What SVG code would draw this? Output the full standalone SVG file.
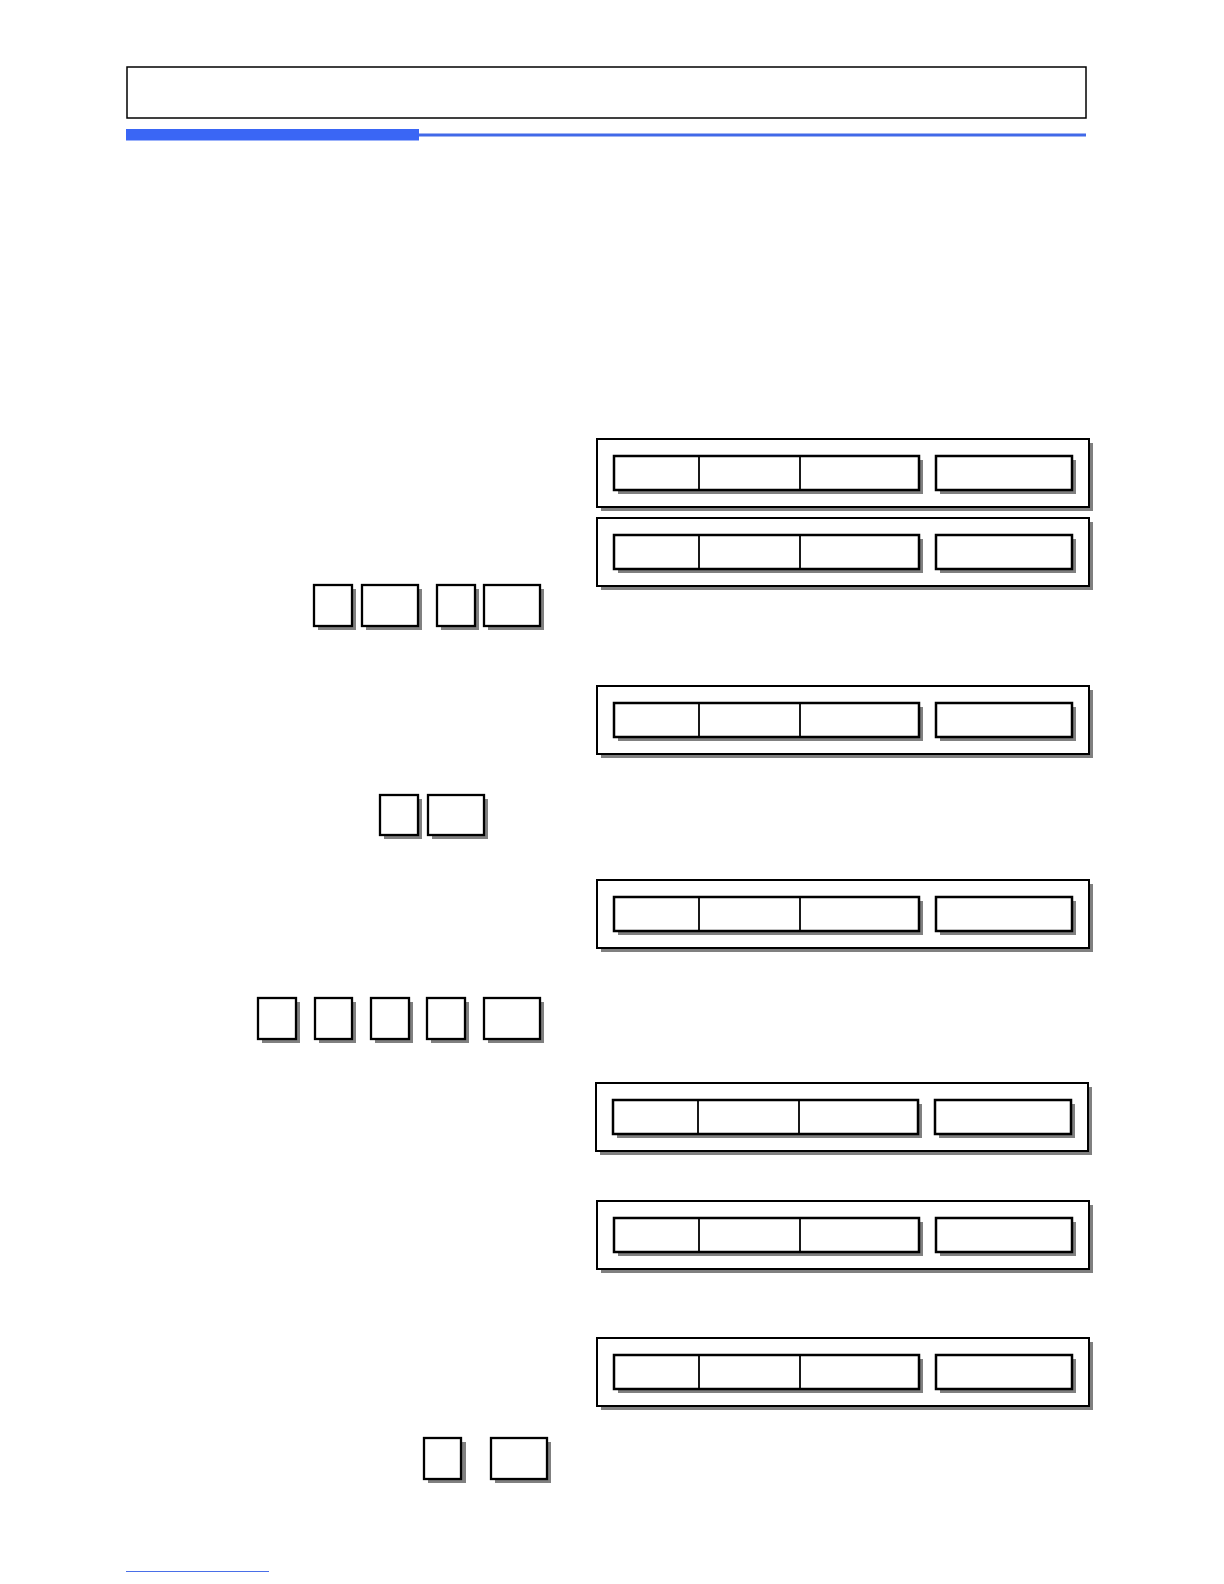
<svg xmlns="http://www.w3.org/2000/svg" width="1224" height="1584" viewBox="0 0 1224 1584">
<style>
.sh{fill:#808080;stroke:none}
.ob{fill:#fff;stroke:#000;stroke-width:2}
.cell{fill:#fff;stroke:#000;stroke-width:2.5}
.div{stroke:#000;stroke-width:1.8}
.key{fill:#fff;stroke:#000;stroke-width:2.3}
</style>
<defs>
<g id="panel">
<rect class="sh" x="4" y="4" width="492" height="68"/>
<rect class="ob" x="0" y="0" width="492" height="68"/>
<rect class="sh" x="21" y="21" width="305" height="34"/>
<rect class="cell" x="17" y="17" width="305" height="34"/>
<line class="div" x1="102" y1="17" x2="102" y2="51"/>
<line class="div" x1="203" y1="17" x2="203" y2="51"/>
<rect class="sh" x="343" y="21" width="136" height="34"/>
<rect class="cell" x="339" y="17" width="136" height="34"/>
</g>
</defs>
<rect width="1224" height="1584" fill="#fff"/>
<g id="header">
<rect x="127" y="67" width="959" height="51" fill="#fff" stroke="#000" stroke-width="1.5"/>
<rect x="126" y="129" width="293" height="11.5" fill="#3a66f5"/>
<rect x="419" y="133.5" width="667" height="3" fill="#4169e8"/>
</g>
<g id="panel1"><use href="#panel" x="597" y="439"/></g>
<g id="panel2"><use href="#panel" x="597" y="518"/></g>
<g id="panel3"><use href="#panel" x="597" y="686"/></g>
<g id="panel4"><use href="#panel" x="597" y="880"/></g>
<g id="panel5"><use href="#panel" x="596" y="1083"/></g>
<g id="panel6"><use href="#panel" x="597" y="1201"/></g>
<g id="panel7"><use href="#panel" x="597" y="1338"/></g>
<g id="keys1">
<rect class="sh" x="318" y="589" width="38" height="41"/><rect class="key" x="314" y="585" width="38" height="41"/>
<rect class="sh" x="366" y="589" width="56" height="41"/><rect class="key" x="362" y="585" width="56" height="41"/>
<rect class="sh" x="441" y="589" width="38" height="41"/><rect class="key" x="437" y="585" width="38" height="41"/>
<rect class="sh" x="488" y="589" width="56" height="41"/><rect class="key" x="484" y="585" width="56" height="41"/>
</g>
<g id="keys2">
<rect class="sh" x="384" y="799" width="38" height="40"/><rect class="key" x="380" y="795" width="38" height="40"/>
<rect class="sh" x="432" y="799" width="56" height="40"/><rect class="key" x="428" y="795" width="56" height="40"/>
</g>
<g id="keys3">
<rect class="sh" x="262" y="1002" width="38" height="41"/><rect class="key" x="258" y="998" width="38" height="41"/>
<rect class="sh" x="319" y="1002" width="37" height="41"/><rect class="key" x="315" y="998" width="37" height="41"/>
<rect class="sh" x="375" y="1002" width="38" height="41"/><rect class="key" x="371" y="998" width="38" height="41"/>
<rect class="sh" x="431" y="1002" width="38" height="41"/><rect class="key" x="427" y="998" width="38" height="41"/>
<rect class="sh" x="488" y="1002" width="56" height="41"/><rect class="key" x="484" y="998" width="56" height="41"/>
</g>
<g id="keys4">
<rect class="sh" x="428" y="1442" width="38" height="41"/><rect class="key" x="424" y="1438" width="37" height="41"/>
<rect class="sh" x="495" y="1442" width="56" height="41"/><rect class="key" x="491" y="1438" width="56" height="41"/>
</g>
<g id="connectors"></g>
<line x1="126" y1="1571.5" x2="269" y2="1571.5" stroke="#4a6fe8" stroke-width="1"/>
</svg>
